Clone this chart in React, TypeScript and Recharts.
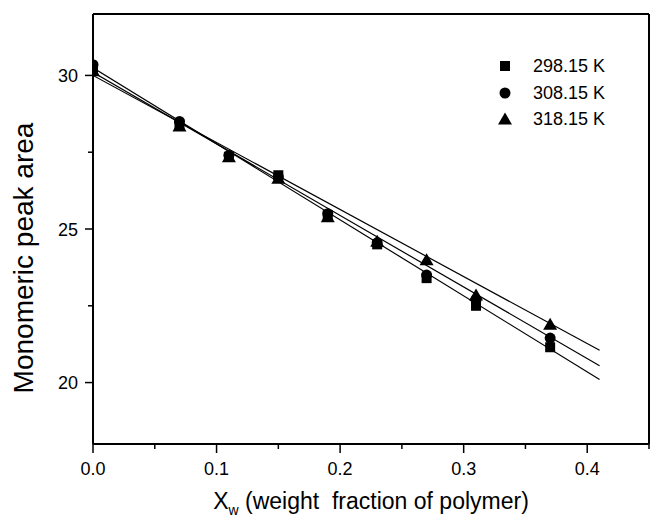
import React from 'react';
import { ComposedChart, Line, Scatter, XAxis, YAxis, ReferenceLine } from 'recharts';

const xValues = [0, 0.07, 0.11, 0.15, 0.19, 0.23, 0.27, 0.31, 0.37];
const area298 = [30.25, 28.4, 27.35, 26.75, 25.45, 24.5, 23.4, 22.5, 21.15];
const area308 = [30.35, 28.5, 27.4, 26.7, 25.5, 24.55, 23.5, 22.7, 21.45];
const area318 = [30.15, 28.35, 27.35, 26.65, 25.4, 24.6, 24.0, 22.85, 21.9];
const seriesNames = ['298.15 K', '308.15 K', '318.15 K'];
const fitX = [0, 0.41];
const fitStart = [30.25, 30.1, 30.0];
const fitEnd = [20.1, 20.55, 21.05];
const xTicks = [0, 0.05, 0.1, 0.15, 0.2, 0.25, 0.3, 0.35, 0.4, 0.45];
const yTicks = [20, 22.5, 25, 27.5, 30];
const xTitleMain = 'X';
const xTitleSub = 'w';
const xTitleRest = ' (weight  fraction of polymer)';
const yTitle = 'Monomeric peak area';

const FONT = "'Liberation Sans', Arial, sans-serif";

const seriesValues = [area298, area308, area318];
const seriesPoints = seriesValues.map((vals) => xValues.map((x, i) => ({ x, y: vals[i] })));
const fitLines = fitStart.map((s, i) => [
  { x: fitX[0], y: s },
  { x: fitX[1], y: fitEnd[i] },
]);

const Square = ({ cx, cy }: any) => <rect x={cx - 5} y={cy - 5} width={10} height={10} fill="#000" />;
const Circle = ({ cx, cy }: any) => <circle cx={cx} cy={cy} r={5.5} fill="#000" />;
const Triangle = ({ cx, cy }: any) => (
  <polygon points={`${cx},${cy - 6.5} ${cx + 7},${cy + 5.5} ${cx - 7},${cy + 5.5}`} fill="#000" />
);
const shapes = [Square, Circle, Triangle];

const isMajorX = (v: number) => Math.abs(v * 10 - Math.round(v * 10)) < 1e-6;

const XTick = (props: any) => {
  const { x, y, payload } = props;
  const v = payload.value as number;
  const major = isMajorX(v);
  return (
    <g>
      <line x1={x} x2={x} y1={y} y2={y + (major ? 9 : 5)} stroke="#000" strokeWidth={1.5} />
      {major && v < 0.449 && (
        <text x={x} y={y + 31} textAnchor="middle" fontSize={18} fontFamily={FONT} fill="#000">
          {v.toFixed(1)}
        </text>
      )}
    </g>
  );
};

const YTick = (props: any) => {
  const { x, y, payload } = props;
  const v = payload.value as number;
  const major = Math.abs(v % 5) < 1e-6;
  return (
    <g>
      <line x1={x} x2={x - (major ? 8 : 5)} y1={y} y2={y} stroke="#000" strokeWidth={1.5} />
      {major && (
        <text x={x - 15} y={y + 6.5} textAnchor="end" fontSize={18} fontFamily={FONT} fill="#000">
          {v}
        </text>
      )}
    </g>
  );
};

const XTitle = (props: any) => {
  const vb = props.viewBox || {};
  const cx = vb.x + vb.width / 2;
  return (
    <text x={cx} y={509} textAnchor="middle" fontSize={23} fontFamily={FONT} fill="#000" style={{ whiteSpace: 'pre' }}>
      {xTitleMain}
      <tspan fontSize={14} dy={6}>{xTitleSub}</tspan>
      <tspan dy={-6}>{xTitleRest}</tspan>
    </text>
  );
};

const YTitle = () => (
  <text x={33} y={258} transform="rotate(-90 33 258)" textAnchor="middle" fontSize={28} fontFamily={FONT} fill="#000">
    {yTitle}
  </text>
);

const LegendBox = () => (
  <div style={{ position: 'absolute', left: 497, top: 52.75, fontFamily: FONT, fontSize: 18, color: '#000' }}>
    {seriesNames.map((name, i) => {
      const Shape = shapes[i];
      return (
        <div key={name} style={{ display: 'flex', alignItems: 'center', height: 26.5 }}>
          <svg width={16} height={16} style={{ marginRight: 20 }}>
            <Shape cx={8} cy={8} />
          </svg>
          <span style={{ lineHeight: '20px' }}>{name}</span>
        </div>
      );
    })}
  </div>
);

export default function App() {
  return (
    <div style={{ position: 'absolute', left: 0, top: 0, width: 650, height: 521, background: '#fff' }}>
      <ComposedChart width={650} height={521} margin={{ top: 14, right: 1, bottom: 0, left: 0 }}>
        <XAxis
          type="number"
          dataKey="x"
          domain={[0, 0.45]}
          ticks={xTicks}
          interval={0}
          tick={<XTick />}
          tickLine={false}
          tickSize={0}
          tickMargin={0}
          height={77}
          axisLine={{ stroke: '#000', strokeWidth: 2 }}
          allowDataOverflow
          label={<XTitle />}
        />
        <YAxis
          type="number"
          dataKey="y"
          domain={[18, 32]}
          ticks={yTicks}
          interval={0}
          tick={<YTick />}
          tickLine={false}
          tickSize={0}
          tickMargin={0}
          width={93}
          axisLine={{ stroke: '#000', strokeWidth: 2 }}
          allowDataOverflow
          label={<YTitle />}
        />
        <ReferenceLine y={32} stroke="#000" strokeWidth={2} />
        <ReferenceLine x={0.45} stroke="#000" strokeWidth={2} />
        {fitLines.map((d, i) => (
          <Line
            key={`fit-${i}`}
            data={d}
            dataKey="y"
            type="linear"
            stroke="#000"
            strokeWidth={1.2}
            dot={false}
            activeDot={false}
            isAnimationActive={false}
            legendType="none"
          />
        ))}
        {seriesPoints.map((d, i) => (
          <Scatter
            key={seriesNames[i]}
            name={seriesNames[i]}
            data={d}
            shape={shapes[i]}
            isAnimationActive={false}
          />
        ))}
      </ComposedChart>
      <LegendBox />
    </div>
  );
}
